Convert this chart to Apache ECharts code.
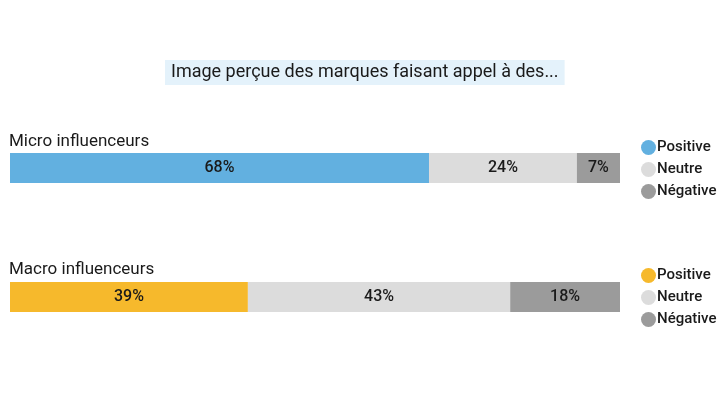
<!DOCTYPE html>
<html>
<head>
<meta charset="utf-8">
<script src="https://cdn.jsdelivr.net/npm/echarts@6/dist/echarts.min.js"></script>
<style>
  html, body { margin: 0; padding: 0; background: #fff; }
  #chart { width: 728px; height: 410px; }
</style>
</head>
<body>
<div id="chart"></div>
<script>
const chartTitle = 'Image perçue des marques faisant appel à des...';
const categories = ['Micro influenceurs', 'Macro influenceurs'];
const sentiments = ['Positive', 'Neutre', 'Négative'];
const microValues = [68, 24, 7];
const macroValues = [39, 43, 18];

const microColors = ['#62b0e0', '#dcdcdc', '#9b9b9b'];
const macroColors = ['#f6b92c', '#dcdcdc', '#9b9b9b'];

const FONT = 'Roboto, "Noto Sans", sans-serif';

function sum(arr) {
    return arr.reduce((a, b) => a + b, 0);
}

// une série empilée par sentiment et par ligne ; noms internes distincts
function build_series(values, colors, idx, prefix) {
    return values.map(function (v, i) {
        return {
            type: 'bar',
            name: prefix + i,
            stack: 'row' + idx,
            xAxisIndex: idx,
            yAxisIndex: idx,
            data: [v],
            barWidth: '100%',
            itemStyle: {color: colors[i]},
            label: {
                show: true,
                position: 'inside',
                formatter: '{c}%',
                color: '#1a1a1a',
                fontSize: 16,
                fontWeight: 500,
                fontFamily: FONT
            },
            emphasis: {disabled: true}
        };
    });
}

function build_legend(prefix, top) {
    return {
        orient: 'vertical',
        left: 636,
        top: top,
        icon: 'circle',
        itemWidth: 15,
        itemHeight: 15,
        itemGap: 7,
        selectedMode: false,
        data: sentiments.map((s, i) => prefix + i),
        formatter: function (name) {
            return sentiments[parseInt(name.slice(prefix.length))];
        },
        textStyle: {fontSize: 15, fontWeight: 500, color: '#1a1a1a', fontFamily: FONT, padding: [0, 0, 0, -4]}
    };
}

const grids = [
    {left: 10, right: 108, top: 153, height: 30},
    {left: 10, right: 108, top: 282, height: 30}
];
const rowValues = [microValues, macroValues];

let chart = echarts.init(document.getElementById('chart'), null, {renderer: 'canvas'});
chart.setOption({
    animation: false,
    title: [
        {
            text: chartTitle,
            left: 165,
            top: 60,
            padding: [3, 6, 4, 6],
            backgroundColor: '#e4f2fb',
            textStyle: {fontSize: 18, fontWeight: 'normal', color: '#1a1a1a', fontFamily: FONT}
        },
        {
            text: categories[0],
            left: 9, top: 133, padding: 0,
            textStyle: {fontSize: 17, fontWeight: 'normal', color: '#1a1a1a', fontFamily: FONT}
        },
        {
            text: categories[1],
            left: 9, top: 261, padding: 0,
            textStyle: {fontSize: 17, fontWeight: 'normal', color: '#1a1a1a', fontFamily: FONT}
        }
    ],
    legend: [build_legend('micro', 135), build_legend('macro', 263)],
    grid: grids,
    xAxis: rowValues.map(function (vals, i) {
        return {type: 'value', gridIndex: i, min: 0, max: sum(vals), show: false};
    }),
    yAxis: categories.map(function (c, i) {
        return {type: 'category', gridIndex: i, data: [c], show: false};
    }),
    series: build_series(microValues, microColors, 0, 'micro')
        .concat(build_series(macroValues, macroColors, 1, 'macro'))
});
</script>
</body>
</html>
